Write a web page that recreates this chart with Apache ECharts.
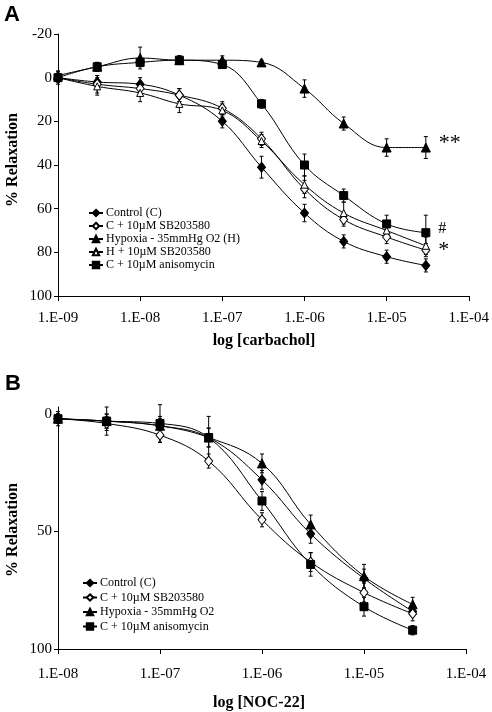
<!DOCTYPE html>
<html><head><meta charset="utf-8">
<script src="https://cdn.jsdelivr.net/npm/echarts@6/dist/echarts.min.js"></script>
<style>html,body{margin:0;padding:0;background:#fff}#c{width:492px;height:712px}</style>
</head><body><div id="c"></div>
<script>
// ---------- Panel A data (carbachol) ----------
var xA = [1e-9, 3e-9, 1e-8, 3e-8, 1e-7, 3e-7, 1e-6, 3e-6, 1e-5, 3e-5];
var controlA = [0, 2, 3, 8, 20, 41, 62, 75, 82, 86];
var controlAErr = [2, 3, 3, 3, 3, 5, 4, 3, 3, 3];
var sbA = [0, 3, 5, 8, 14, 28, 51, 65, 73, 79];
var sbAErr = [2, 4, 3, 3, 3, 3, 4, 3, 3, 3];
var hypA = [-1, -5, -9, -8, -8, -7, 5, 21, 32, 32];
var hypAErr = [2, 2, 5, 2, 2, 1, 4, 3, 4, 5];
var hsbA = [0, 4, 7, 12, 15, 29, 49, 62, 70, 77];
var hsbAErr = [3, 4, 4, 4, 3, 3, 4, 5, 3, 4];
var anisoA = [0, -5, -7, -8, -6, 12, 40, 54, 67, 71];
var anisoAErr = [1, 2, 2, 2, 1, 2, 5, 3, 4, 8];
var namesA = ['Control (C)', 'C + 10\u00b5M SB203580', 'Hypoxia - 35mmHg O2 (H)', 'H + 10\u00b5M SB203580', 'C + 10\u00b5M anisomycin'];
var tickLabelsA = ['1.E-09', '1.E-08', '1.E-07', '1.E-06', '1.E-05', '1.E-04'];
var yTicksA = [-20, 0, 20, 40, 60, 80, 100];

// ---------- Panel B data (NOC-22) ----------
var xB = [1e-8, 3e-8, 1e-7, 3e-7, 1e-6, 3e-6, 1e-5, 3e-5];
var controlB = [2, 3, 5, 10, 28, 51, 70, 84];
var controlBErr = [2, 3, 4, 4, 4, 4, 4, 2];
var sbB = [2, 4, 9, 20, 45, 63, 76, 85];
var sbBErr = [2, 3, 3, 3, 3, 4, 4, 3];
var hypB = [2, 3, 5, 10, 21, 47, 69, 81];
var hypBErr = [2, 3, 3, 4, 4, 4, 5, 3];
var anisoB = [2, 3, 4, 10, 37, 64, 82, 92];
var anisoBErr = [3, 6, 8, 9, 4, 5, 4, 2];
var namesB = ['Control (C)', 'C + 10\u00b5M SB203580', 'Hypoxia - 35mmHg O2', 'C + 10\u00b5M anisomycin'];
var tickLabelsB = ['1.E-08', '1.E-07', '1.E-06', '1.E-05', '1.E-04'];
var yTicksB = [0, 50, 100];

var SERIF = '"Liberation Serif","Times New Roman",serif';
var SANS = '"Liberation Sans",Arial,sans-serif';

var DIAMOND = 'path://M0,-1L1,0L0,1L-1,0Z';

function styleFor(kind) {
  switch (kind) {
    case 'diamond': return {symbol: DIAMOND, size: [8, 10], fill: '#000'};
    case 'odiamond': return {symbol: DIAMOND, size: [8, 10], fill: '#fff'};
    case 'triangle': return {symbol: 'triangle', size: 9, fill: '#000'};
    case 'otriangle': return {symbol: 'triangle', size: 7, fill: '#fff'};
    case 'square': return {symbol: 'rect', size: 8, fill: '#000'};
  }
}

function lineSeries(name, xs, ys, kind, xi, yi, labelIdx, labelText, labelSize, labelOffset) {
  var st = styleFor(kind);
  var data = xs.map(function (x, i) {
    var d = {value: [x, ys[i]]};
    if (i === labelIdx) {
      d.label = {show: true, formatter: labelText, position: 'right', distance: 8,
        offset: labelOffset || [0, 0],
        color: '#000', fontFamily: SERIF, fontSize: labelSize};
    }
    return d;
  });
  return {
    type: 'line', name: name, xAxisIndex: xi, yAxisIndex: yi, data: data,
    smooth: 0.4,
    symbol: st.symbol, symbolSize: st.size, showSymbol: true,
    lineStyle: {color: '#000', width: 1},
    itemStyle: {color: st.fill, borderColor: '#000', borderWidth: 1},
    emphasis: {disabled: true}, z: 3, animation: false
  };
}

function errSeries(xs, ys, es, xi, yi) {
  return {
    type: 'custom', xAxisIndex: xi, yAxisIndex: yi, z: 2, silent: true, animation: false,
    data: xs.map(function (x, i) { return [x, ys[i] - es[i], ys[i] + es[i]]; }),
    encode: {x: 0, y: [1, 2]},
    renderItem: function (params, api) {
      var lo = api.coord([api.value(0), api.value(1)]);
      var hi = api.coord([api.value(0), api.value(2)]);
      var w = 2;
      var st = {stroke: '#000', lineWidth: 1};
      return {type: 'group', children: [
        {type: 'line', shape: {x1: lo[0], y1: lo[1], x2: hi[0], y2: hi[1]}, style: st},
        {type: 'line', shape: {x1: lo[0] - w, y1: lo[1], x2: lo[0] + w, y2: lo[1]}, style: st},
        {type: 'line', shape: {x1: hi[0] - w, y1: hi[1], x2: hi[0] + w, y2: hi[1]}, style: st}
      ]};
    }
  };
}

function xAxisDef(gi, min, max, labels, minExp, margin) {
  return {
    type: 'log', logBase: 10, gridIndex: gi, min: min, max: max,
    axisLine: {onZero: false, lineStyle: {color: '#000', width: 1}},
    axisTick: {length: 5, lineStyle: {color: '#000'}},
    splitLine: {show: false},
    axisLabel: {
      color: '#000', fontFamily: SERIF, fontSize: 15, margin: margin,
      formatter: function (v) {
        var e = Math.round(Math.log10(v));
        return labels[e - minExp] || '';
      }
    }
  };
}

var chart = echarts.init(document.getElementById('c'), null, {renderer: 'canvas'});
var option = {
  backgroundColor: '#fff',
  animation: false,
  grid: [
    {left: 58, right: 20, top: 34, bottom: 416},
    {left: 58, right: 26, top: 407, bottom: 63}
  ],
  xAxis: [
    xAxisDef(0, 1e-9, 1e-4, tickLabelsA, -9, 15),
    xAxisDef(1, 1e-8, 1e-4, tickLabelsB, -8, 18)
  ],
  yAxis: [
    {
      type: 'value', gridIndex: 0, inverse: true, min: yTicksA[0], max: yTicksA[yTicksA.length - 1], interval: 20,
      axisLine: {show: true, lineStyle: {color: '#000'}},
      axisTick: {show: true, length: 4, lineStyle: {color: '#000'}},
      splitLine: {show: false},
      axisLabel: {color: '#000', fontFamily: SERIF, fontSize: 15, margin: 6}
    },
    {
      type: 'value', gridIndex: 1, inverse: true, min: -3, max: 100,
      axisLine: {show: true, lineStyle: {color: '#000'}},
      axisTick: {show: true, length: 4, lineStyle: {color: '#000'}, customValues: yTicksB},
      splitLine: {show: false},
      axisLabel: {color: '#000', fontFamily: SERIF, fontSize: 15, margin: 6, customValues: yTicksB}
    }
  ],
  legend: [
    {
      orient: 'vertical', left: 83, top: 202, itemWidth: 14, itemHeight: 8, itemGap: 1,
      data: namesA, selectedMode: false,
      textStyle: {color: '#000', fontFamily: SERIF, fontSize: 12, lineHeight: 12, padding: [0, 0, 0, -2]}
    },
    {
      orient: 'vertical', left: 77, top: 572, itemWidth: 14, itemHeight: 8, itemGap: 2.5,
      data: namesB, selectedMode: false,
      textStyle: {color: '#000', fontFamily: SERIF, fontSize: 12, lineHeight: 12, padding: [0, 0, 0, -2]}
    }
  ],
  graphic: [
    {type: 'text', left: 4, top: 4, style: {text: 'A', font: 'bold 22px ' + SANS, fill: '#000'}},
    {type: 'text', left: 5, top: 373, style: {text: 'B', font: 'bold 22px ' + SANS, fill: '#000'}},
    {type: 'text', x: 13, y: 160, rotation: Math.PI / 2,
      style: {text: '% Relaxation', font: 'bold 16px ' + SERIF, fill: '#000', align: 'center', verticalAlign: 'middle'}},
    {type: 'text', x: 13, y: 530, rotation: Math.PI / 2,
      style: {text: '% Relaxation', font: 'bold 16px ' + SERIF, fill: '#000', align: 'center', verticalAlign: 'middle'}},
    {type: 'text', x: 264, y: 341,
      style: {text: 'log [carbachol]', font: 'bold 16px ' + SERIF, fill: '#000', align: 'center', verticalAlign: 'middle'}},
    {type: 'text', x: 259, y: 703,
      style: {text: 'log [NOC-22]', font: 'bold 16px ' + SERIF, fill: '#000', align: 'center', verticalAlign: 'middle'}}
  ],
  series: [
    errSeries(xA, controlA, controlAErr, 0, 0),
    errSeries(xA, sbA, sbAErr, 0, 0),
    errSeries(xA, hypA, hypAErr, 0, 0),
    errSeries(xA, hsbA, hsbAErr, 0, 0),
    errSeries(xA, anisoA, anisoAErr, 0, 0),
    lineSeries(namesA[0], xA, controlA, 'diamond', 0, 0),
    lineSeries(namesA[1], xA, sbA, 'odiamond', 0, 0, 9, '*', 22),
    lineSeries(namesA[2], xA, hypA, 'triangle', 0, 0, 9, '**', 22, [0, -4]),
    lineSeries(namesA[3], xA, hsbA, 'otriangle', 0, 0),
    lineSeries(namesA[4], xA, anisoA, 'square', 0, 0, 9, '#', 16, [0, -4]),
    errSeries(xB, controlB, controlBErr, 1, 1),
    errSeries(xB, sbB, sbBErr, 1, 1),
    errSeries(xB, hypB, hypBErr, 1, 1),
    errSeries(xB, anisoB, anisoBErr, 1, 1),
    lineSeries(namesB[0], xB, controlB, 'diamond', 1, 1),
    lineSeries(namesB[1], xB, sbB, 'odiamond', 1, 1),
    lineSeries(namesB[2], xB, hypB, 'triangle', 1, 1),
    lineSeries(namesB[3], xB, anisoB, 'square', 1, 1)
  ]
};
chart.setOption(option);
</script>
</body></html>
